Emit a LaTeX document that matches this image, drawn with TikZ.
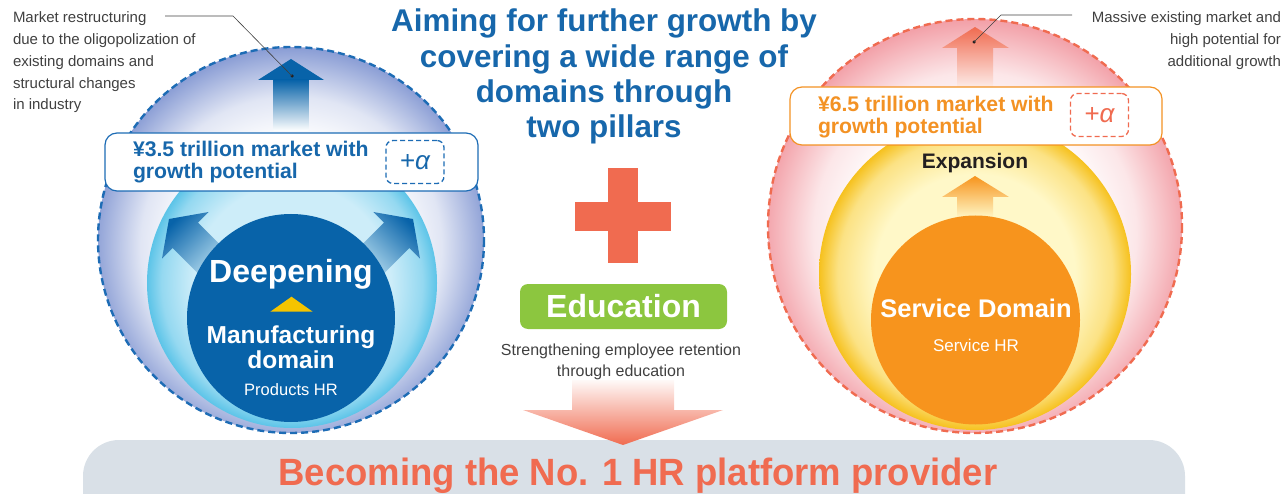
\documentclass[tikz,border=0pt]{standalone}
\usepackage{fontspec}
\setmainfont{Liberation Sans}

% palette
\definecolor{titleblue}{HTML}{1767AB}
\definecolor{deepblue}{HTML}{0863A9}
\definecolor{lineblue}{HTML}{1D6CB5}
\definecolor{lavender}{HTML}{8599D3}
\definecolor{cyanedge}{HTML}{5CC4E8}
\definecolor{cyanlight}{HTML}{CDEDF9}
\definecolor{salmon}{HTML}{F06B50}
\definecolor{pinkedge}{HTML}{F29CA4}
\definecolor{sunedge}{HTML}{F6C11E}
\definecolor{sunlight}{HTML}{FFF8C8}
\definecolor{orangecore}{HTML}{F7941D}
\definecolor{labelorange}{HTML}{F39224}
\definecolor{edugreen}{HTML}{8CC63F}
\definecolor{bandgray}{HTML}{D9E0E7}
\definecolor{notegray}{HTML}{404040}
\definecolor{triyellow}{HTML}{F5C400}
\definecolor{inkblack}{HTML}{231F20}

% radial glows: the circle edge sits at 25bp; the white core sits a little low
\pgfdeclareradialshading{blueglow}{\pgfpoint{0bp}{-1.5bp}}{%
  color(0bp)=(white); color(14bp)=(white); color(19.5bp)=(lavender!25!white);
  color(23bp)=(lavender!65!white); color(26bp)=(lavender); color(50bp)=(lavender)}
\pgfdeclareradialshading{cyanglow}{\pgfpoint{0bp}{0bp}}{%
  color(0bp)=(cyanlight); color(17bp)=(cyanlight); color(22.5bp)=(cyanedge!50!cyanlight);
  color(25bp)=(cyanedge); color(50bp)=(cyanedge)}
\pgfdeclareradialshading{pinkglow}{\pgfpoint{0bp}{-1.5bp}}{%
  color(0bp)=(white); color(14bp)=(white); color(19.5bp)=(pinkedge!25!white);
  color(23bp)=(pinkedge!65!white); color(26bp)=(pinkedge); color(50bp)=(pinkedge)}
\pgfdeclareradialshading{sunglow}{\pgfpoint{0bp}{0bp}}{%
  color(0bp)=(sunlight); color(16bp)=(sunlight); color(22bp)=(sunedge!40!sunlight);
  color(25bp)=(sunedge); color(50bp)=(sunedge)}

\tikzset{
  every node/.style={inner sep=0pt, outer sep=0pt},
  ringline/.style={line width=2.4pt, dash pattern=on 7pt off 4pt},
  note/.style={font=\fontsize{15}{21.7}\selectfont, text=notegray},
  leader/.style={draw=notegray, line width=0.6pt},
  leaderdot/.style={circle, fill=inkblack, minimum size=3.5pt},
  marketbox/.style={fill=white, rounded corners=12pt, line width=1.2pt,
    minimum width=#1, minimum height=58pt},
  markettext/.style={font=\fontsize{21.2}{22}\selectfont\bfseries, align=left, anchor=base west},
  alphabox/.style={dash pattern=on 5pt off 3pt, line width=1.3pt, rounded corners=7pt,
    minimum width=58pt, minimum height=43pt, font=\fontsize{26}{26}\selectfont},
}

\begin{document}
\begin{tikzpicture}[x=1pt,y=-1pt]
\useasboundingbox (0,0) rectangle (1284,494);

% ---------------- left pillar: manufacturing ----------------
\shade[shading=blueglow] (291,240) circle (193);
% upward arrow toward the outer ring
\fill[deepblue] (258,80) -- (291,59) -- (324,80) -- cycle;
\shade[top color=deepblue, bottom color=white] (273.5,80) rectangle (308.5,131);
% light cyan ring
\shade[shading=cyanglow] (292,283) circle (145);
% diagonal arrows
\shade[top color=deepblue, middle color=deepblue!50!cyanlight, bottom color=cyanlight, shading angle=45]
  (169,219) -- (208.6,212) -- (198.0,222.6) -- (233.4,258.0) -- (208.0,283.4)
  -- (172.6,248.0) -- (162,258.6) -- cycle;
\shade[top color=deepblue, middle color=deepblue!50!cyanlight, bottom color=cyanlight, shading angle=-45]
  (413,219) -- (373.4,212) -- (384.0,222.6) -- (348.6,258.0) -- (374.0,283.4)
  -- (409.4,248.0) -- (420,258.6) -- cycle;
% core
\fill[deepblue] (291,318) circle (104);
\draw[ringline, draw=lineblue] (291,240) circle (193);

\node[font=\fontsize{32}{32}\selectfont\bfseries, text=white, anchor=base] (deep) at (291,283) {Deepening};
\fill[triyellow] (291.5,296.7) -- (312.7,311.7) -- (270.3,311.7) -- cycle;
\node[font=\fontsize{24.5}{25}\selectfont\bfseries, text=white, align=center, anchor=base] (manu) at (291,368) {Manufacturing\\domain};
\node[font=\fontsize{16.5}{16.5}\selectfont, text=white, anchor=base] (prodhr) at (291,395) {Products HR};

\node[marketbox=373pt, draw=lineblue] (lbox) at (291.5,162) {};
\node[markettext, text=titleblue] (ltext) at (133,179) {¥3.5 trillion market with\\growth potential};
\node[alphabox, draw=lineblue, text=titleblue] (lalpha) at (415,162) {+\itshape α};

% ---------------- right pillar: service ----------------
\shade[shading=pinkglow] (975,226) circle (207);
\shade[top color=salmon, bottom color=salmon!12!white] (942,48) -- (975,27) -- (1009,48) -- (993,48)
  -- (993,88) -- (957,88) -- (957,48) -- cycle;
\shade[shading=sunglow] (975,274) circle (156);
\shade[top color=orangecore, bottom color=sunlight] (942,197) -- (975,176) -- (1009,197) -- (993,197)
  -- (993,218) -- (957,218) -- (957,197) -- cycle;
\fill[orangecore] (975.5,320) circle (104.5);
\draw[ringline, draw=salmon] (975,226) circle (207);

\node[font=\fontsize{21}{21}\selectfont\bfseries, text=inkblack, anchor=base] (expand) at (975,169) {Expansion};
\node[font=\fontsize{25.5}{25.5}\selectfont\bfseries, text=white, anchor=base] (servdom) at (976,317) {Service Domain};
\node[font=\fontsize{17}{17}\selectfont, text=white, anchor=base] (servhr) at (976,351) {Service HR};

\node[marketbox=372pt, draw=labelorange] (rbox) at (976,116) {};
\node[markettext, text=labelorange] (rtext) at (818,134) {¥6.5 trillion market with\\growth potential};
\node[alphabox, draw=salmon, text=salmon] (ralpha) at (1099.5,115) {+\itshape α};

% ---------------- annotations ----------------
\node[note, align=left, anchor=base west] (lnote) at (13,109.8)
  {Market restructuring\\due to the oligopolization of\\existing domains and\\structural changes\\in industry};
\coordinate (lstart) at (165,16);
\coordinate (lbend) at (233,16);
\node[leaderdot] (ldot) at (292,76) {};
\draw[leader] (lstart) -- (lbend) -- (ldot.center);

\node[note, align=right, anchor=base east] (rnote) at (1281,66.4)
  {Massive existing market and\\high potential for\\additional growth};
\coordinate (rstart) at (1072,15);
\coordinate (rbend) at (1001,15);
\node[leaderdot] (rdot) at (974,42) {};
\draw[leader] (rstart) -- (rbend) -- (rdot.center);

% ---------------- centre column ----------------
\node[font=\fontsize{31.4}{35.3}\selectfont\bfseries, text=titleblue, align=center, anchor=base] (title) at (604,137.9)
  {Aiming for further growth by\\covering a wide range of\\domains through\\two pillars};

\fill[salmon] (608,168) rectangle (638,263);
\fill[salmon] (575,202) rectangle (671,231);

\node[fill=edugreen, rounded corners=8pt, minimum width=207pt, minimum height=45pt,
  font=\fontsize{32}{32}\selectfont\bfseries, text=white] (edu) at (623.5,306.5) {Education};
\node[note, font=\fontsize{16}{21}\selectfont, align=center, anchor=base] (edunote) at (621,376)
  {Strengthening employee retention\\through education};

% ---------------- goal band ----------------
\fill[bandgray] (83,494) {[rounded corners=36pt] -- (83,440) -- (1185,440)} -- (1185,494) -- cycle;
\shade[top color=salmon!4!white, bottom color=salmon] (572,380) -- (674,380) -- (674,410) -- (723,410)
  -- (623,445) -- (523,410) -- (572,410) -- cycle;
\node[font=\fontsize{38}{38}\selectfont\bfseries, text=salmon, anchor=base] (goal) at (638,485)
  {\scalebox{0.96}[1]{Becoming the No. 1 HR platform provider}};
\end{tikzpicture}
\end{document}
